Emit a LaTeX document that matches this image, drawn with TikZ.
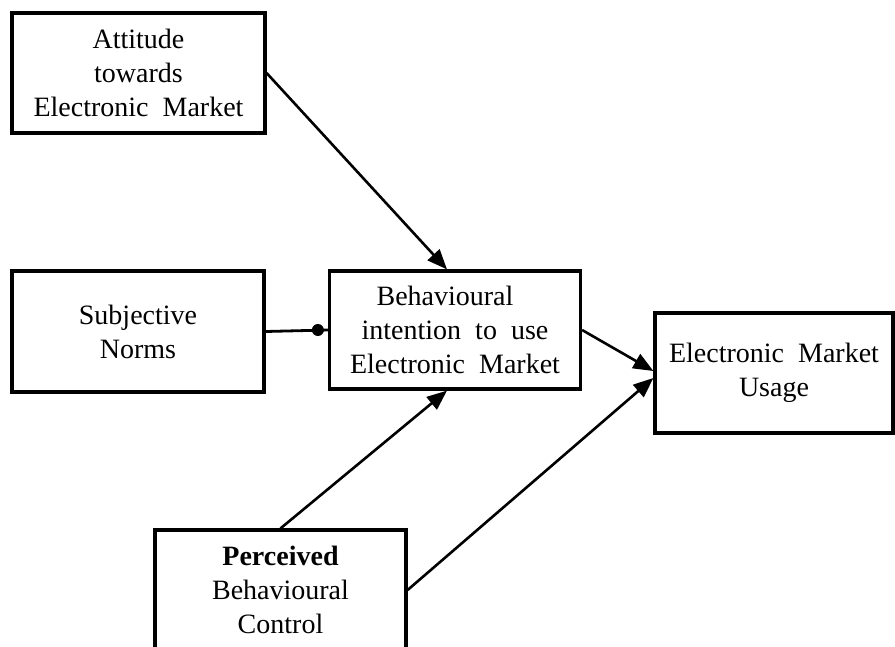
\documentclass[tikz,border=0pt]{standalone}
\usepackage{fontspec}
\setmainfont{Liberation Serif}
\usetikzlibrary{arrows.meta}
\tikzset{
  box/.style={draw, line width=3.2pt, align=center, inner sep=0pt, font={\fontsize{28}{34}\selectfont}},
  link/.style={line width=2.6pt, -{Triangle[length=20pt,width=16pt]}},
  plain/.style={line width=2.8pt}
}
\begin{document}
\begin{tikzpicture}[x=1pt,y=-1pt]
\clip (0,0) rectangle (895,646);
\fill[white] (0,0) rectangle (895,646);
\node[box, minimum width=253pt, minimum height=120pt] (A) at (138.5,73) {Attitude\\towards\\Electronic~ Market};
\node[box, minimum width=252pt, minimum height=121pt] (S) at (138,331.5) {Subjective\\Norms};
\node[box, minimum width=251pt, minimum height=118pt] (B) at (455,330) {Behavioural\hspace*{20pt}\mbox{}\\intention~ to~ use\\Electronic~ Market};
\node[box, minimum width=238pt, minimum height=120pt] (E) at (774,373) {Electronic~ Market\\Usage};
\node[box, minimum width=251pt, minimum height=120pt] (P) at (280.5,590) {\textbf{Perceived}\\Behavioural\\Control};
\coordinate (dot) at ([xshift=-10pt]B.west);
\draw[link] (A.east) -- ([xshift=-8pt]B.north);
\draw[plain] (S.east) -- (B.west);
\fill (dot) circle (6pt);
\draw[link] (B.east) -- ([yshift=2pt]E.west);
\draw[link] (P.north) -- ([xshift=-8pt]B.south);
\draw[link] (P.east) -- ([yshift=-5pt]E.west);
\end{tikzpicture}
\end{document}
